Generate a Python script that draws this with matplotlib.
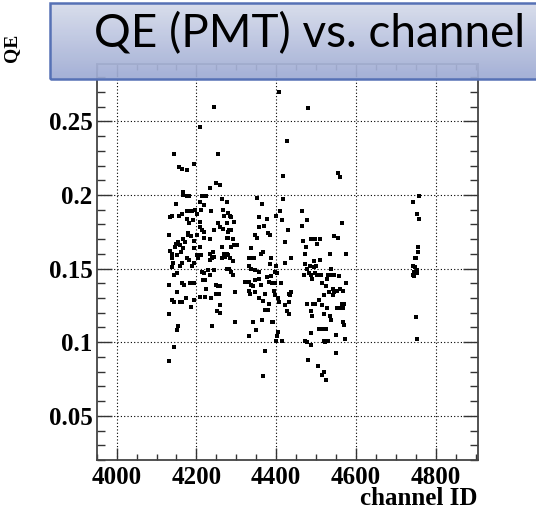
import numpy as np
import matplotlib.pyplot as plt
from matplotlib.patches import Rectangle
from matplotlib.ticker import MultipleLocator

# channel ID / quantum efficiency pairs, grouped by block of channels
chan_a = [4243, 4208, 4145, 4255, 4156, 4163, 4177, 4193, 4234, 4250, 4258, 4166, 4167, 4176,
          4181, 4214, 4224, 4263, 4148, 4276, 4208, 4220, 4211, 4134, 4140, 4157, 4165, 4177,
          4182, 4190, 4196, 4201, 4237, 4266, 4269, 4177, 4191, 4182, 4209, 4208, 4215, 4220,
          4243, 4255, 4260, 4267, 4276, 4132, 4180, 4279,
          4149, 4155, 4147, 4159, 4167, 4172, 4180, 4186, 4195, 4201, 4219, 4234, 4209, 4193,
          4265, 4276, 4134, 4138, 4162, 4166, 4151, 4176, 4182, 4201, 4203, 4211, 4234, 4241,
          4243, 4239, 4233, 4268, 4272, 4265, 4139, 4141, 4159, 4163, 4188, 4193, 4138, 4276,
          4145, 4151, 4214, 4218, 4230, 4234, 4243, 4130, 4163, 4169, 4184, 4195, 4216, 4222,
          4250, 4260, 4253, 4224, 4151, 4250, 4256, 4138, 4144, 4159, 4164, 4174, 4186, 4195,
          4209, 4221, 4236, 4258, 4251, 4260, 4130, 4155, 4151, 4240, 4145, 4132]
qe_a = [0.260, 0.246, 0.228, 0.228, 0.219, 0.218, 0.217, 0.221, 0.205, 0.208, 0.207, 0.202, 0.200, 0.199,
        0.199, 0.199, 0.199, 0.197, 0.194, 0.195, 0.195, 0.193, 0.190, 0.185, 0.186, 0.186, 0.187, 0.189,
        0.189, 0.189, 0.190, 0.187, 0.189, 0.190, 0.186, 0.184, 0.183, 0.181, 0.182, 0.178, 0.176, 0.175,
        0.176, 0.181, 0.178, 0.177, 0.181, 0.173, 0.174, 0.175,
        0.167, 0.168, 0.165, 0.166, 0.170, 0.168, 0.173, 0.172, 0.169, 0.173, 0.171, 0.170, 0.165, 0.164,
        0.165, 0.171, 0.162, 0.160, 0.161, 0.164, 0.159, 0.157, 0.156, 0.159, 0.157, 0.159, 0.160, 0.161,
        0.158, 0.157, 0.156, 0.160, 0.158, 0.157, 0.157, 0.154, 0.152, 0.154, 0.152, 0.154, 0.151, 0.150,
        0.146, 0.147, 0.148, 0.147, 0.149, 0.146, 0.149, 0.139, 0.140, 0.139, 0.140, 0.140, 0.142, 0.142,
        0.139, 0.138, 0.138, 0.136, 0.134, 0.133, 0.133, 0.129, 0.127, 0.127, 0.127, 0.130, 0.124, 0.129,
        0.131, 0.131, 0.130, 0.125, 0.121, 0.120, 0.119, 0.111, 0.108, 0.111, 0.097, 0.087]

chan_b = [4406, 4426, 4418, 4353, 4364, 4418, 4280, 4284, 4287, 4293, 4358, 4376, 4400, 4410,
          4415, 4356, 4370, 4282, 4287, 4379, 4384, 4430,
          4279, 4291, 4287, 4294, 4302, 4276, 4280, 4272, 4285, 4291, 4346, 4352, 4338, 4363,
          4366, 4423, 4332, 4339, 4344, 4388, 4385, 4400, 4423, 4282, 4287, 4331, 4336, 4346,
          4356, 4291, 4377, 4388, 4398, 4402, 4321, 4327, 4332, 4348, 4356, 4338, 4343, 4363,
          4383, 4389, 4396, 4413, 4296, 4331, 4335, 4346, 4371, 4394, 4398, 4431, 4438, 4435,
          4356, 4367, 4381, 4405, 4408, 4421, 4433, 4373, 4379, 4428, 4431, 4296, 4341, 4364,
          4389, 4391, 4350, 4331, 4405, 4402, 4400, 4415, 4373, 4367]
qe_b = [0.270, 0.237, 0.213, 0.198, 0.194, 0.197, 0.188, 0.186, 0.185, 0.182, 0.185, 0.184, 0.186, 0.189,
        0.183, 0.178, 0.179, 0.176, 0.176, 0.174, 0.173, 0.176,
        0.171, 0.170, 0.165, 0.166, 0.166, 0.160, 0.159, 0.159, 0.157, 0.155, 0.173, 0.171, 0.164, 0.160,
        0.161, 0.168, 0.157, 0.157, 0.157, 0.157, 0.153, 0.152, 0.154, 0.150, 0.148, 0.152, 0.150, 0.149,
        0.148, 0.146, 0.144, 0.145, 0.148, 0.147, 0.141, 0.141, 0.141, 0.142, 0.143, 0.139, 0.138, 0.139,
        0.141, 0.140, 0.140, 0.140, 0.134, 0.135, 0.133, 0.134, 0.133, 0.135, 0.132, 0.133, 0.134, 0.132,
        0.130, 0.128, 0.126, 0.130, 0.127, 0.125, 0.127, 0.122, 0.122, 0.121, 0.119, 0.114, 0.114, 0.115,
        0.114, 0.114, 0.108, 0.104, 0.107, 0.104, 0.101, 0.101, 0.094, 0.077]

chan_c = [4480, 4554, 4561, 4465, 4477, 4465, 4564,
          4466, 4474, 4486, 4496, 4503, 4509, 4546, 4554, 4471, 4536, 4574, 4437, 4494, 4509,
          4471, 4477, 4484, 4494, 4499, 4538, 4469, 4481, 4486, 4490, 4496, 4501, 4513, 4529,
          4536, 4544, 4557, 4528, 4574, 4515, 4526, 4543, 4561, 4568, 4553, 4546, 4543, 4519,
          4532, 4477, 4492, 4498, 4507, 4515, 4528, 4553, 4561, 4568, 4565, 4570, 4487, 4489,
          4519, 4534, 4538, 4568, 4571, 4506, 4516, 4524, 4488, 4549, 4471, 4476, 4487, 4519,
          4523, 4529, 4572, 4549, 4480, 4504, 4519, 4514, 4524]
qe_c = [0.259, 0.215, 0.212, 0.189, 0.183, 0.179, 0.181,
        0.169, 0.165, 0.170, 0.170, 0.167, 0.170, 0.172, 0.171, 0.160, 0.160, 0.160, 0.157, 0.155, 0.156,
        0.153, 0.150, 0.152, 0.151, 0.152, 0.150, 0.146, 0.147, 0.146, 0.143, 0.147, 0.146, 0.146, 0.146,
        0.146, 0.146, 0.145, 0.143, 0.140, 0.140, 0.138, 0.136, 0.136, 0.135, 0.135, 0.134, 0.132, 0.132,
        0.134, 0.126, 0.126, 0.126, 0.129, 0.125, 0.123, 0.123, 0.123, 0.123, 0.126, 0.126, 0.121, 0.118,
        0.119, 0.118, 0.115, 0.114, 0.112, 0.109, 0.109, 0.109, 0.106, 0.105, 0.101, 0.100, 0.098, 0.101,
        0.100, 0.101, 0.102, 0.093, 0.088, 0.084, 0.080, 0.078, 0.074]

chan_d = [4758, 4744, 4752, 4759, 4756, 4756, 4747, 4751, 4742, 4749, 4753, 4746, 4753, 4742,
          4746, 4750, 4753]
qe_d = [0.199, 0.195, 0.187, 0.184, 0.165, 0.161, 0.157, 0.157, 0.152, 0.151, 0.149, 0.148, 0.147, 0.146,
        0.145, 0.117, 0.102]

channel = np.array(chan_a + chan_b + chan_c + chan_d)
qe = np.array(qe_a + qe_b + qe_c + qe_d)

fig = plt.figure(figsize=(5.36, 5.12), dpi=100)
ax = fig.add_axes([0.1804, 0.1016, 0.7108, 0.7734])

ax.plot(channel, qe, 's', color='black', markersize=2.6, markeredgewidth=0)

ax.set_xlim(3950, 4905)
ax.set_ylim(0.02, 0.289)
ax.xaxis.set_major_locator(MultipleLocator(200))
ax.xaxis.set_minor_locator(MultipleLocator(50))
ax.yaxis.set_minor_locator(MultipleLocator(0.01))
ax.set_yticks([0.05, 0.1, 0.15, 0.2, 0.25])
ax.set_yticklabels(['0.05', '0.1', '0.15', '0.2', '0.25'])

ax.grid(True, which='major', color='black', linestyle=(0, (1, 2)), linewidth=0.8)
ax.tick_params(which='both', direction='in', top=True, right=True, width=1.0, color='#333333')
ax.tick_params(axis='y', which='major', length=11, pad=3)
ax.tick_params(axis='y', which='minor', length=5.5)
ax.tick_params(axis='x', which='major', length=8.5, pad=4)
ax.tick_params(axis='x', which='minor', length=4.3)
for lab in ax.get_xticklabels() + ax.get_yticklabels():
    lab.set_fontfamily('Liberation Serif')
    lab.set_fontweight('bold')
    lab.set_fontsize(18)
for sp in ax.spines.values():
    sp.set_linewidth(1.3)
    sp.set_color('#444444')

fig.text(0.891, 0.013, 'channel ID', ha='right', va='baseline',
         fontfamily='Liberation Serif', fontweight='bold', fontsize=18)
fig.text(0.022, 0.935, 'QE', ha='center', va='top', rotation=90,
         fontfamily='Liberation Serif', fontweight='bold', fontsize=14)

# translucent title banner across the top
bx = fig.add_axes([0.0933, 0.8457, 0.9067, 0.1484])
bx.set_axis_off()
grad = np.linspace(0, 1, 64)[:, None]
top = np.array([0.84, 0.86, 0.92])
bot = np.array([0.62, 0.67, 0.83])
rgb = top + (bot - top) * grad[..., None]
rgb = np.repeat(rgb, 2, axis=1)
bx.imshow(rgb, aspect='auto', extent=[0, 1, 0, 1], alpha=0.93)
bx.add_patch(Rectangle((0, 0), 1.2, 1, transform=bx.transAxes, fill=False,
                       edgecolor='#5671b5', linewidth=1.8, clip_on=False))
bx.set_xlim(0, 1)
bx.set_ylim(0, 1)
fig.text(0.578, 1 - 47 / 512, 'QE (PMT) vs. channel', ha='center', va='baseline',
         fontfamily='Lato', fontsize=33, color='black')

fig.savefig('out.png', dpi=100)
